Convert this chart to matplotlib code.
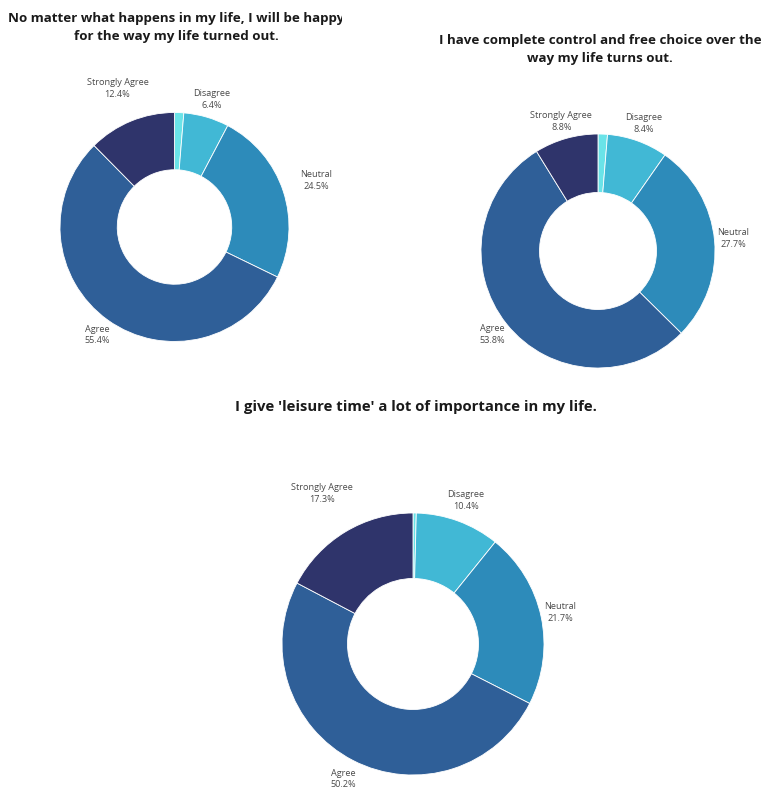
import matplotlib
matplotlib.use("Agg")
import matplotlib.pyplot as plt
import numpy as np
from matplotlib.patches import Rectangle

# Response categories, in clockwise order from 12 o'clock
categories = ["Strongly Disagree", "Disagree", "Neutral", "Agree", "Strongly Agree"]
shown_labels = [False, True, True, True, True]

# Share of responses (%) for each statement
life_happy = [1.3, 6.4, 24.5, 55.4, 12.4]
life_control = [1.3, 8.4, 27.7, 53.8, 8.8]
leisure_time = [0.4, 10.4, 21.7, 50.2, 17.3]

titles = [
    "No matter what happens in my life, I will be happy\nfor the way my life turned out.",
    "I have complete control and free choice over the\nway my life turns out.",
    "I give 'leisure time' a lot of importance in my life.",
]

colors = ["#6ae3e8", "#41b8d5", "#2d8bba", "#2f5f98", "#2f346b"]

W, H = 767, 792
fig = plt.figure(figsize=(W / 100, H / 100), dpi=100)
ax = fig.add_axes([0, 0, 1, 1])

TITLE_FONT = dict(family=["Open Sans", "DejaVu Sans"], weight="bold", color="#1a1a1a")
LABEL_FONT = dict(family=["Open Sans", "DejaVu Sans"], color="#4a4a4a", fontsize=6.6)


def donut(values, cx, cy, r, label_r):
    wedges, _ = ax.pie(values, colors=colors, startangle=90, counterclock=False,
                       center=(cx, H - cy), radius=r,
                       wedgeprops=dict(width=r * 0.5, edgecolor="white", linewidth=0.6))
    for w, name, val, show, lr in zip(wedges, categories, values, shown_labels, label_r):
        if not show:
            continue
        mid = np.deg2rad((w.theta1 + w.theta2) / 2)
        x = cx + r * lr * np.cos(mid)
        y = (H - cy) + r * lr * np.sin(mid)
        ax.text(x, y, f"{name}\n{val:.1f}%", ha="center", va="center",
                linespacing=1.4, **LABEL_FONT)


donut(life_happy, 174.5, 227, 114.5, [0, 1.16, 1.3, 1.16, 1.31])
donut(life_control, 598, 251, 117, [0, 1.16, 1.16, 1.15, 1.15])
donut(leisure_time, 413, 644, 131, [0, 1.17, 1.15, 1.16, 1.34])

t1 = ax.text(176.5, H - 27.5, titles[0], ha="center", va="center", fontsize=9.6,
             linespacing=1.55, clip_on=True, **TITLE_FONT)
t1.set_clip_path(Rectangle((0, 0), 342, H, transform=ax.transData))
ax.text(600, H - 49.5, titles[1], ha="center", va="center", fontsize=9.6,
        linespacing=1.55, **TITLE_FONT)
ax.text(416, H - 407, titles[2], ha="center", va="center", fontsize=10.7,
        **TITLE_FONT)

# pie() resets the view, so fix the pixel-sized canvas afterwards
ax.set_xlim(0, W)
ax.set_ylim(0, H)
ax.set_aspect("equal")
ax.axis("off")

fig.savefig("out.png", dpi=100, facecolor="white")
